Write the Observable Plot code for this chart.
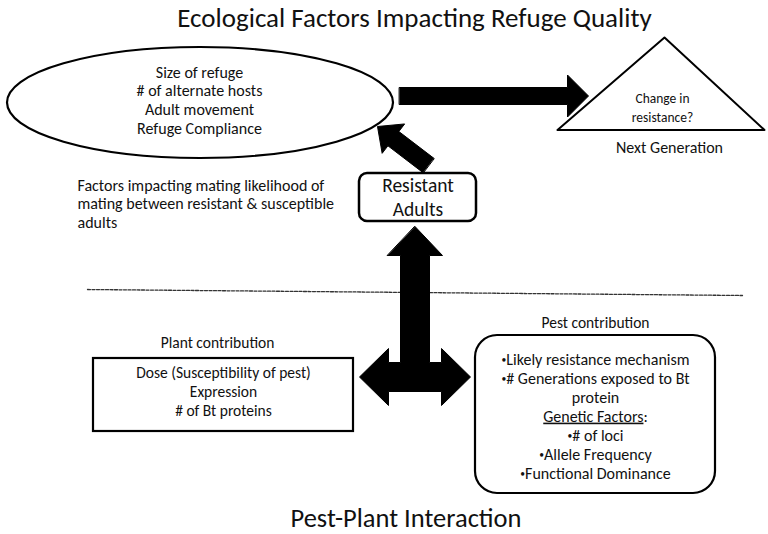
<!DOCTYPE html>
<html><head><meta charset="utf-8">
<script src="https://cdn.jsdelivr.net/npm/d3@7"></script>
<script src="https://cdn.jsdelivr.net/npm/@observablehq/plot@0.6"></script>
<style>body{margin:0;background:#fff} svg{display:block}</style>
</head><body><div id="chart"></div>
<script>
// ---- text content of the diagram ----
const titleTop = ["Ecological Factors Impacting Refuge Quality"];
const titleBottom = ["Pest-Plant Interaction"];
const refugeFactors = ["Size of refuge", "# of alternate hosts", "Adult movement", "Refuge Compliance"];
const outcomeLines = ["Change in", "resistance?"];
const outcomeLabel = ["Next Generation"];
const matingNote = ["Factors impacting mating likelihood of", "mating between resistant & susceptible", "adults"];
const adultsLines = ["Resistant", "Adults"];
const plantLabel = ["Plant contribution"];
const plantFactors = ["Dose (Susceptibility of pest)", "Expression", "# of Bt proteins"];
const pestLabel = ["Pest contribution"];
const pestFactors = ["•Likely resistance mechanism", "•# Generations exposed to Bt", "protein", "Genetic Factors:", "•# of loci", "•Allele Frequency", "•Functional Dominance"];

// ---- layout (diagram units = pixels of a 768 x 534 canvas) ----
const FONT = "Carlito, Calibri, Lato, sans-serif";
const L = {
  ellipse: {cx: 200, cy: 102.5, rx: 193, ry: 55.5},
  triangle: [[664, 37], [557, 129.5], [764, 129.5]],
  adultsBox: {x1: 359, x2: 476, y1: 173, y2: 221, r: 8},
  plantBox: {x1: 93, x2: 353, y1: 358, y2: 431},
  pestBox: {x1: 475, x2: 715, y1: 335, y2: 493, r: 22},
  divider: [[87, 289], [742, 295]],
  arrowRight: {tail: [399, 95.5], tip: [588, 95.5], shaft: 17, head: 42, headLen: 21},
  arrowDiag: {tail: [428, 165], tip: [377, 126], shaft: 18, head: 37, headLen: 20},
  tArrow: {cx: 414.5, top: 226, vHeadLen: 29, vHeadHalf: 27.5, shaftHalf: 14.5, hy: 376.5, left: 359, right: 470, hHeadLen: 29, hHeadHalf: 28.5}
};

function arrowPoly(id, a) {
  const [x0, y0] = a.tail, [x1, y1] = a.tip;
  const len = Math.hypot(x1 - x0, y1 - y0), ux = (x1 - x0) / len, uy = (y1 - y0) / len;
  const nx = -uy, ny = ux, bx = x1 - ux * a.headLen, by = y1 - uy * a.headLen;
  const s = a.shaft / 2, h = a.head / 2;
  return [
    [x0 + nx * s, y0 + ny * s], [bx + nx * s, by + ny * s], [bx + nx * h, by + ny * h],
    [x1, y1],
    [bx - nx * h, by - ny * h], [bx - nx * s, by - ny * s], [x0 - nx * s, y0 - ny * s]
  ].map(([x, y]) => ({id, x, y}));
}
function tArrowPoly(id, t) {
  const c = t.cx, s = t.shaftHalf, vb = t.top + t.vHeadLen, rb = t.right - t.hHeadLen, lb = t.left + t.hHeadLen;
  return [
    [c, t.top], [c + t.vHeadHalf, vb], [c + s, vb], [c + s, t.hy - s],
    [rb, t.hy - s], [rb, t.hy - t.hHeadHalf], [t.right, t.hy], [rb, t.hy + t.hHeadHalf], [rb, t.hy + s],
    [lb, t.hy + s], [lb, t.hy + t.hHeadHalf], [t.left, t.hy], [lb, t.hy - t.hHeadHalf], [lb, t.hy - s],
    [c - s, t.hy - s], [c - s, vb], [c - t.vHeadHalf, vb]
  ].map(([x, y]) => ({id, x, y}));
}
const arrows = [
  ...arrowPoly("right", L.arrowRight),
  ...arrowPoly("diag", L.arrowDiag),
  ...tArrowPoly("t", L.tArrow)
];
const triPts = L.triangle.map(([x, y]) => ({x, y}));
const divPts = L.divider.map(([x, y]) => ({x, y}));

function ellipseMark(e) {
  return (index, scales) => {
    const g = document.createElementNS("http://www.w3.org/2000/svg", "ellipse");
    g.setAttribute("cx", scales.x(e.cx));
    g.setAttribute("cy", scales.y(e.cy));
    g.setAttribute("rx", Math.abs(scales.x(e.cx + e.rx) - scales.x(e.cx)));
    g.setAttribute("ry", Math.abs(scales.y(e.cy + e.ry) - scales.y(e.cy)));
    g.setAttribute("fill", "white");
    g.setAttribute("stroke", "black");
    g.setAttribute("stroke-width", 2.2);
    return g;
  };
}

const lines = (arr, x, y0, dy, opts) =>
  Plot.text(arr, {x: () => x, y: (d, i) => y0 + i * dy, text: d => d, fill: "#111", ...opts});

const chart = Plot.plot({
  width: 768, height: 534, margin: 0,
  x: {domain: [0, 768], range: [0, 768], axis: null},
  y: {domain: [0, 534], range: [0, 534], axis: null},
  style: {fontFamily: FONT, background: "white", overflow: "visible"},
  marks: [
    Plot.line(divPts, {x: "x", y: "y", stroke: "#333", strokeWidth: 1.3, strokeDasharray: "3,1.5"}),
    ellipseMark(L.ellipse),
    Plot.line(triPts, {x: "x", y: "y", curve: "linear-closed", fill: "white", stroke: "black", strokeWidth: 2}),
    Plot.rect([L.adultsBox], {x1: "x1", x2: "x2", y1: "y1", y2: "y2", rx: L.adultsBox.r, fill: "white", stroke: "black", strokeWidth: 2.5}),
    Plot.rect([L.plantBox], {x1: "x1", x2: "x2", y1: "y1", y2: "y2", fill: "white", stroke: "black", strokeWidth: 2.2}),
    Plot.rect([L.pestBox], {x1: "x1", x2: "x2", y1: "y1", y2: "y2", rx: L.pestBox.r, fill: "white", stroke: "black", strokeWidth: 2.2}),
    Plot.line(arrows, {x: "x", y: "y", z: "id", curve: "linear-closed", fill: "black", stroke: "black", strokeWidth: 1}),
    lines(titleTop, 414, 17.5, 0, {fontSize: 27}),
    lines(refugeFactors, 199, 72, 18.7, {fontSize: 16}),
    lines(outcomeLines, 662, 98, 19, {fontSize: 13.5}),
    lines(outcomeLabel, 669, 147, 0, {fontSize: 16}),
    lines(matingNote, 77, 185, 18.5, {fontSize: 16, textAnchor: "start"}),
    lines(adultsLines, 417.5, 185, 24.5, {fontSize: 19.5}),
    lines(plantLabel, 217, 343, 0, {fontSize: 15.5}),
    lines(plantFactors, 223, 373, 18.7, {fontSize: 15.5}),
    lines(pestLabel, 595, 323, 0, {fontSize: 15.5}),
    lines(pestFactors, 595, 359, 19, {fontSize: 16}),
    lines(titleBottom, 405.5, 518.5, 0, {fontSize: 26.5, wordSpacing: "3px"})
  ]
});

// underline "Genetic Factors" (not the colon); draw bullets small as in the reference
const ns = "http://www.w3.org/2000/svg";
chart.querySelectorAll("text").forEach(t => {
  const s = t.textContent;
  if (s === "Genetic Factors:") {
    t.textContent = "";
    const a = document.createElementNS(ns, "tspan");
    a.textContent = "Genetic Factors";
    a.setAttribute("text-decoration", "underline");
    const b = document.createElementNS(ns, "tspan");
    b.textContent = ":";
    t.appendChild(a); t.appendChild(b);
  } else if (s.startsWith("•")) {
    t.textContent = "";
    const a = document.createElementNS(ns, "tspan");
    a.textContent = "•";
    a.setAttribute("font-size", "0.6em");
    a.setAttribute("baseline-shift", "2");
    const b = document.createElementNS(ns, "tspan");
    b.textContent = s.slice(1);
    t.appendChild(a); t.appendChild(b);
  }
});
document.getElementById("chart").appendChild(chart);
</script>
</body></html>
